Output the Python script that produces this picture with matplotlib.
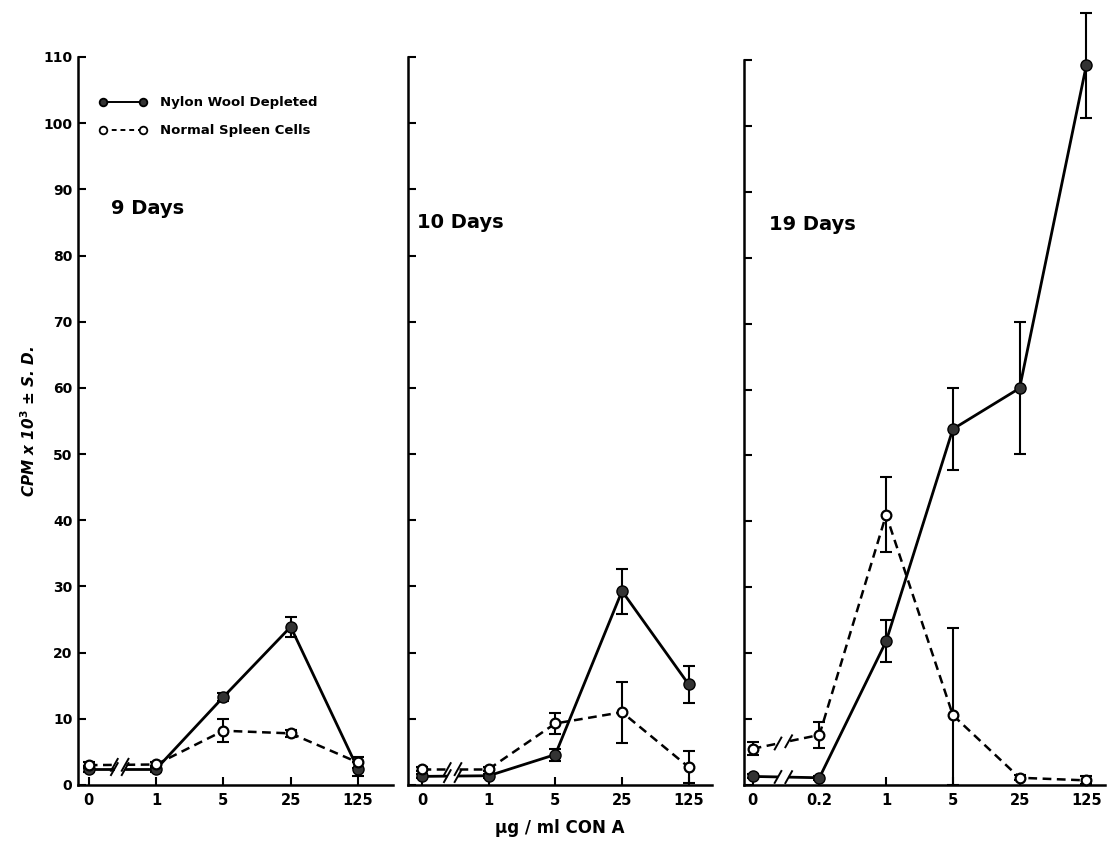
import matplotlib
matplotlib.use("Agg")
import matplotlib.pyplot as plt

plt.rcParams['font.family'] = ['DejaVu Sans']
plt.rcParams['font.weight'] = 'bold'

# doses (ug/ml CON A) per experiment
doses_9 = ['0', '1', '5', '25', '125']
doses_10 = ['0', '1', '5', '25', '125']
doses_19 = ['0', '0.2', '1', '5', '25', '125']

# CPM x 10^3, nylon wool depleted cells
nylon_9 = [2.4, 2.4, 13.3, 23.9, 2.4]
nylon_9_sd = [0.4, 0.4, 0.6, 1.5, 1.0]
nylon_10 = [1.3, 1.4, 4.6, 29.3, 15.2]
nylon_10_sd = [0.3, 0.3, 0.9, 3.4, 2.8]
nylon_19 = [1.3, 1.1, 21.8, 54.0, 60.2, 109.2]
nylon_19_sd = [0.3, 0.3, 3.2, 6.2, 10.0, 8.0]

# CPM x 10^3, normal spleen cells
normal_9 = [3.0, 3.1, 8.2, 7.8, 3.4]
normal_9_sd = [0.4, 0.4, 1.7, 0.5, 0.9]
normal_10 = [2.4, 2.4, 9.3, 11.0, 2.7]
normal_10_sd = [0.3, 0.3, 1.6, 4.6, 2.4]
normal_19 = [5.5, 7.6, 41.0, 10.6, 1.1, 0.7]
normal_19_sd = [1.0, 2.0, 5.7, 13.2, 0.4, 0.6]

titles = ['9 Days', '10 Days', '19 Days']
yticks = list(range(0, 111, 10))

W, H = 1110, 849
fig = plt.figure(figsize=(W / 100, H / 100), dpi=100)


def px_axes(x0, x1, y_top, y_bot):
    return fig.add_axes([x0 / W, (H - y_bot) / H, (x1 - x0) / W, (y_bot - y_top) / H])


def break_series(ax, y, ls, lw):
    # first interval is drawn broken, with a '//' in the gap
    y0, y1 = y[0], y[1]
    xa, xb = 0.36, 0.56
    ya = y0 + (y1 - y0) * xa
    yb = y0 + (y1 - y0) * xb
    ax.plot([0, xa], [y0, ya], color='black', ls=ls, lw=lw, zorder=2)
    ax.plot([xb, 1], [yb, y1], color='black', ls=ls, lw=lw, zorder=2)
    for xs in (xa + 0.02, xb - 0.02):
        ys = y0 + (y1 - y0) * xs
        ax.plot([xs - 0.05, xs + 0.05], [ys - 0.9, ys + 0.9], color='black', lw=1.4, zorder=2)


def errbars(ax, xs, y, sd):
    # bars never run below the zero line
    lower = [min(s, v) for v, s in zip(y, sd)]
    ax.errorbar(xs, y, yerr=[lower, sd], fmt='none', ecolor='black',
                elinewidth=1.5, capsize=4, capthick=1.5, zorder=3, clip_on=False)


def draw_panel(ax, labels, nylon, nylon_sd, normal, normal_sd, title, title_xy, xlim):
    xs = list(range(len(labels)))
    # normal spleen cells, dashed with open circles
    break_series(ax, normal, (0, (3.5, 2.2)), 1.8)
    ax.plot(xs[1:], normal[1:], color='black', ls=(0, (3.5, 2.2)), lw=1.8, zorder=2)
    errbars(ax, xs, normal, normal_sd)
    ax.plot(xs, normal, ls='none', marker='o', ms=7, mfc='white', mec='black',
            mew=1.6, zorder=5, clip_on=False)
    # nylon wool depleted, solid with filled circles
    break_series(ax, nylon, '-', 2.0)
    ax.plot(xs[1:], nylon[1:], color='black', ls='-', lw=2.0, zorder=2)
    errbars(ax, xs, nylon, nylon_sd)
    ax.plot(xs, nylon, ls='none', marker='o', ms=8, mfc='#333333', mec='black',
            zorder=4, clip_on=False)

    ax.set_xlim(*xlim)
    ax.set_ylim(0, 110)
    ax.set_xticks(xs)
    ax.set_xticklabels(labels, fontsize=10.5, fontweight='bold')
    ax.set_yticks(yticks)
    ax.spines['top'].set_visible(False)
    ax.spines['right'].set_visible(False)
    ax.spines['left'].set_linewidth(1.8)
    ax.spines['bottom'].set_linewidth(1.8)
    ax.tick_params(axis='both', direction='in', length=6, width=1.5, pad=6)
    ax.text(title_xy[0], title_xy[1], title, fontsize=14, fontweight='bold',
            transform=ax.transAxes)


ax1 = px_axes(78, 393, 57, 785)
ax2 = px_axes(408, 712, 57, 785)
ax3 = px_axes(744, 1105, 60, 785)

draw_panel(ax1, doses_9, nylon_9, nylon_9_sd, normal_9, normal_9_sd,
           titles[0], (0.105, 0.785), (-0.16, 4.52))
draw_panel(ax2, doses_10, nylon_10, nylon_10_sd, normal_10, normal_10_sd,
           titles[1], (0.03, 0.765), (-0.21, 4.35))
draw_panel(ax3, doses_19, nylon_19, nylon_19_sd, normal_19, normal_19_sd,
           titles[2], (0.07, 0.765), (-0.13, 5.28))

ax1.set_yticklabels([str(v) for v in yticks], fontsize=10, fontweight='bold')
ax1.tick_params(axis='y', pad=4)
ax2.set_yticklabels([])
ax3.set_yticklabels([])

ax1.set_ylabel('CPM x 10$^{\\mathbf{3}}$ ± S. D.', fontsize=11, fontweight='bold',
               style='italic', labelpad=4)
ax2.set_xlabel('µg / ml CON A', fontsize=12, fontweight='bold', labelpad=8)

# legend drawn by hand in the first panel
for yv, mfc, ls, lab in [(103.2, '#333333', '-', 'Nylon Wool Depleted'),
                         (98.9, 'white', (0, (2.5, 2)), 'Normal Spleen Cells')]:
    ax1.plot([0.21, 0.81], [yv, yv], color='black', ls=ls, lw=1.4, marker='o',
             ms=5.5, mfc=mfc, mec='black', mew=1.3)
    ax1.text(1.06, yv, lab, fontsize=9.5, fontweight='bold', va='center')

fig.savefig('out.png', dpi=100)
